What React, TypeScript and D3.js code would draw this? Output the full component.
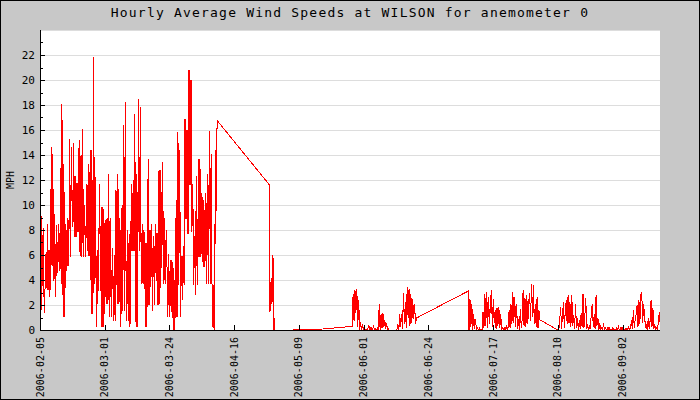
import React from "react";
import * as d3 from "d3";

const TITLE = "Hourly Average Wind Speeds at WILSON for anemometer 0";
const Y_TITLE = "MPH";
const yTickValues = [0, 2, 4, 6, 8, 10, 12, 14, 16, 18, 20, 22];
const yMinorTickValues = [1, 3, 5, 7, 9, 11, 13, 15, 17, 19, 21, 23];
const yMax = 24;
const xTickLabels = [
  "2006-02-05", "2006-03-01", "2006-03-24", "2006-04-16", "2006-05-09",
  "2006-06-01", "2006-06-24", "2006-07-17", "2006-08-10", "2006-09-02",
];
const axisStart = "2006-02-05T21:07";
const tickStepHours = 555.6;
const axisSpanHours = 5321;

// hourly-average readings, sampled segments (start time, step in hours, MPH values)
const segAStart = "2006-02-06T01:00";
const segAStep = 4;
const segAValues = [
  0.2, 9.1, 9.1, 3.6, 3.6, 8.2, 4.3, 1.6, 1.4, 4.1,
  6.1, 3.5, 3.4, 6.2, 8.5, 3.3, 3.3, 6.4, 6.4, 2.7,
  4.0, 6.4, 14.7, 5.3, 5.2, 14.1, 10.9, 6.1, 4.0, 9.3,
  7.7, 2.7, 2.7, 7.7, 8.4, 4.6, 4.8, 8.5, 7.6, 4.8,
  4.8, 8.0, 13.0, 5.0, 3.7, 18.1, 10.9, 3.7, 1.1, 13.3,
  8.5, 1.1, 4.8, 8.5, 7.9, 4.8, 5.2, 7.9, 9.0, 5.2,
  5.9, 15.3, 14.7, 5.9, 8.3, 14.7, 14.1, 8.3, 8.3, 12.0,
  15.0, 8.3, 7.5, 12.3, 12.3, 7.5, 7.5, 11.8, 11.8, 7.9,
  7.9, 13.3, 15.2, 7.9, 6.0, 13.3, 14.0, 6.0, 5.9, 16.1,
  13.0, 5.9, 6.2, 10.0, 10.0, 5.9, 5.9, 9.5, 11.7, 6.4,
  6.4, 11.7, 13.3, 6.0, 6.0, 12.0, 14.4, 6.0, 1.3, 14.4,
  10.0, 1.3, 3.7, 21.9, 12.3, 3.7, 4.2, 12.3, 6.4, 3.2,
  0.3, 6.4, 6.4, 3.2, 3.2, 11.7, 11.7, 6.1, 3.2, 9.0,
  9.9, 0.3, 3.2, 9.9, 8.5, 0.3, 3.5, 8.5, 8.8, 3.5,
  2.1, 8.8, 9.0, 2.1, 2.5, 12.5, 9.0, 2.5, 1.1, 9.0,
  6.6, 1.1, 2.0, 6.6, 5.5, 2.0, 0.8, 5.5, 6.0, 0.8,
  4.0, 11.2, 9.0, 4.0, 2.1, 12.5, 9.0, 2.1, 2.5, 9.0,
  7.5, 0.3, 1.6, 7.5, 10.0, 1.6, 4.0, 13.6, 16.4, 4.0,
  1.6, 18.3, 8.0, 1.6, 0.8, 8.0, 7.2, 0.8, 2.0, 7.2,
  7.7, 0.3, 3.0, 7.7, 11.7, 6.4, 6.4, 9.8, 12.0, 6.4,
  6.4, 17.3, 12.5, 6.4, 0.3, 12.5, 12.3, 0.3, 6.4, 12.3,
  18.5, 6.4, 6.4, 17.9, 8.5, 6.4, 3.7, 8.5, 8.0, 3.7,
  4.5, 8.0, 7.0, 4.5, 0.3, 7.0, 7.0, 0.3, 3.0, 8.0,
  13.7, 2.1, 2.1, 8.0, 8.0, 3.5, 3.5, 8.5, 8.5, 1.6,
  1.6, 7.5, 7.5, 2.1, 2.1, 8.5, 8.5, 4.0, 4.0, 7.8,
  7.8, 2.1, 2.1, 12.7, 12.8, 2.1, 5.0, 12.8, 10.0, 5.0,
  7.5, 13.5, 9.0, 7.5, 3.7, 9.0, 8.0, 3.7, 4.0, 8.0,
  6.1, 4.0, 1.1, 6.1, 5.0, 1.1, 2.0, 5.0, 5.6, 2.0,
  1.5, 5.6, 5.0, 1.5, 0.0, 5.0, 3.0, 0.0, 1.5, 3.5,
  10.4, 1.1, 1.1, 8.0, 15.9, 3.7, 3.7, 14.4, 14.4, 1.1,
  1.1, 5.9, 5.9, 2.5, 2.5, 6.7, 6.7, 3.7, 3.7, 16.9,
  16.9, 9.0, 9.0, 16.0, 16.0, 7.8, 7.8, 20.8, 20.8, 11.7,
  11.7, 20.0, 20.0, 7.9, 7.9, 11.7, 11.7, 3.7, 3.7, 7.5,
  7.5, 2.9, 2.9, 12.3, 12.3, 3.7, 3.7, 9.0, 13.7, 5.9,
  5.9, 13.7, 11.0, 5.9, 6.5, 11.0, 10.4, 6.5, 5.1, 10.4,
  9.5, 5.1, 5.5, 9.5, 11.0, 5.5, 3.7, 11.0, 12.5, 3.7,
  5.1, 15.9, 15.9, 5.1, 3.7, 14.1, 14.1, 3.7, 0.3, 3.7,
  3.2, 0.3, 0.0, 3.2, 14.4, 6.9, 11.2, 14.4, 16.8,
];

const segBStart = "2006-04-28T18:00";
const segBStep = 4;
const segBValues = [11.65, 1.5, 3.9, 1.6, 3.8, 2.1, 6.0, 2.3, 5.8, 0.0, 0.0, 1.0, 0.0];

const segCStart = "2006-05-13T18:00";
const segCStep = 96;
const segCValues = [0.08, 0.12, 0.2, 0.28];

const segDStart = "2006-05-28T08:00";
const segDStep = 8;
const segDValues = [
  0.3, 2.9, 0.8, 3.2, 1.4, 3.3, 0.3, 2.4, 0.0, 0.7,
  0.0, 0.5, 0.0, 0.4, 0.0, 0.1, 0.0, 0.2, 0.4, 0.0,
  0.3, 0.0, 0.1, 0.4, 0.0, 0.1, 0.0, 0.2, 0.0, 2.1,
  0.0, 1.3, 0.2, 1.4, 0.3, 0.8, 0.1, 0.6, 0.0, 0.1,
  0.0, 0.0, 0.0, 0.0, 0.0, 0.0, 0.0, 0.0, 0.1, 0.5,
  0.0, 1.3, 0.3, 1.3, 0.1, 3.0, 0.5, 2.3, 0.2, 3.5,
  1.0, 3.3, 0.4, 2.9, 0.6, 2.5, 0.9, 2.1, 0.5, 1.0,
];

const segEStart = "2006-07-08T19:00";
const segEStep = 8;
const segEValues = [
  3.15, 0.0, 2.5, 0.3, 2.1, 0.0, 1.3, 0.1, 0.9, 0.0,
  0.3, 0.0, 0.2, 0.0, 0.1, 0.0, 1.5, 0.2, 2.9, 0.4,
  3.1, 0.2, 2.7, 0.5, 2.4, 3.2, 0.3, 2.5, 0.6, 1.6,
  0.1, 1.8, 0.4, 1.9, 0.2, 1.3, 0.0, 0.3, 0.0, 0.2,
  0.0, 0.4, 0.0, 0.3, 1.6, 0.2, 2.1, 0.5, 3.1, 0.6,
  2.7, 0.3, 2.1, 0.1, 0.9, 0.0, 1.7, 0.2, 0.9, 3.2,
  0.4, 2.6, 0.3, 2.8, 0.5, 2.3, 3.0, 0.8, 3.7, 1.1,
  3.6, 0.5, 2.1, 0.3, 2.7, 0.2, 1.6, 0.85,
];

const segFStart = "2006-08-10T05:00";
const segFStep = 8;
const segFValues = [
  0.0, 0.8, 1.9, 0.1, 1.2, 2.3, 0.2, 1.6, 2.4, 0.5,
  2.8, 0.6, 2.3, 0.3, 2.8, 0.4, 1.2, 0.1, 2.1, 0.2,
  1.0, 0.0, 0.8, 0.1, 1.4, 0.3, 2.9, 0.2, 1.2, 2.6,
  0.1, 0.5, 0.0, 0.3, 0.1, 1.6, 2.1, 0.3, 1.3, 0.1,
  2.8, 0.4, 1.0, 0.0, 0.6, 0.0, 0.3, 0.0, 0.6, 0.0,
  0.3, 0.0, 0.2, 0.0, 0.3, 0.0, 0.1, 0.0, 0.2, 0.0,
  0.1, 0.0, 0.2, 0.0, 0.4, 0.0, 0.2, 0.0, 0.3, 0.0,
  0.1, 0.0, 0.2, 0.0, 0.1, 0.3, 0.0, 0.2, 0.8, 0.1,
  1.6, 0.2, 0.9, 1.3, 2.0, 0.3, 2.4, 0.5, 2.9, 3.1,
  0.6, 2.1, 1.3, 0.2, 0.5, 0.0, 1.0, 0.1, 0.8, 2.4,
  0.3, 1.8, 0.1, 0.5, 0.0, 0.3, 0.0, 0.9, 1.5, 0.2,
];

const parseTime = d3.timeParse("%Y-%m-%dT%H:%M");
const HOUR = 3600 * 1000;

type Pt = { t: Date; v: number };

function expand(start: string, stepH: number, values: number[]): Pt[] {
  const t0 = (parseTime(start) as Date).getTime();
  return values.map((v, i) => ({ t: new Date(t0 + i * stepH * HOUR), v }));
}

const series: Pt[] = [
  ...expand(segAStart, segAStep, segAValues),
  ...expand(segBStart, segBStep, segBValues),
  ...expand(segCStart, segCStep, segCValues),
  ...expand(segDStart, segDStep, segDValues),
  ...expand(segEStart, segEStep, segEValues),
  ...expand(segFStart, segFStep, segFValues),
];

const W = 700;
const H = 400;
const M = { left: 40, right: 40, top: 30, bottom: 70 };
const MONO = "'DejaVu Sans Mono', 'Liberation Mono', monospace";

export default function App() {
  const t0 = (parseTime(axisStart) as Date).getTime();
  const x = d3
    .scaleTime()
    .domain([new Date(t0), new Date(t0 + axisSpanHours * HOUR)])
    .range([M.left, W - M.right]);
  const y = d3.scaleLinear().domain([0, yMax]).range([H - M.bottom, M.top]);
  const line = d3
    .line<Pt>()
    .x((d) => x(d.t))
    .y((d) => y(d.v));
  const xTicks = xTickLabels.map((label, k) => ({
    label,
    t: new Date(t0 + k * tickStepHours * HOUR),
  }));
  const x0 = M.left;
  const x1 = W - M.right;
  const yb = H - M.bottom;

  return (
    <svg
      width={W}
      height={H}
      style={{ position: "absolute", left: 0, top: 0 }}
      fontFamily={MONO}
    >
      <defs>
        <clipPath id="plot">
          <rect x={x0} y={M.top} width={x1 - x0} height={yb - M.top + 1} />
        </clipPath>
      </defs>
      <rect x={0.5} y={0.5} width={W - 1} height={H - 1} fill="#c8c8c8" stroke="#000" />
      <rect x={x0} y={M.top} width={x1 - x0} height={yb - M.top} fill="#fff" />
      {yTickValues.concat([yMax]).filter((v) => v > 0).map((v) => (
        <line
          key={"g" + v}
          x1={x0}
          x2={x1}
          y1={Math.round(y(v)) + 0.5}
          y2={Math.round(y(v)) + 0.5}
          stroke="#dddddd"
          shapeRendering="crispEdges"
        />
      ))}
      <g clipPath="url(#plot)">
        <path
          d={line(series) || ""}
          transform="translate(0.5,0.5)"
          fill="none"
          stroke="#ff0000"
          strokeWidth={1}
          shapeRendering="crispEdges"
        />
      </g>
      {/* axes */}
      <line x1={x0 + 0.5} x2={x0 + 0.5} y1={M.top} y2={yb + 1} stroke="#000" shapeRendering="crispEdges" />
      <line x1={x0} x2={x1} y1={yb + 0.5} y2={yb + 0.5} stroke="#000" shapeRendering="crispEdges" />
      {yTickValues.map((v) => (
        <line
          key={"t" + v}
          x1={x0}
          x2={x0 + 5}
          y1={Math.round(y(v)) + 0.5}
          y2={Math.round(y(v)) + 0.5}
          stroke="#000"
          shapeRendering="crispEdges"
        />
      ))}
      {yMinorTickValues.map((v) => (
        <line
          key={"m" + v}
          x1={x0}
          x2={x0 + 3}
          y1={Math.round(y(v)) + 0.5}
          y2={Math.round(y(v)) + 0.5}
          stroke="#000"
          shapeRendering="crispEdges"
        />
      ))}
      {yTickValues.map((v) => (
        <text
          key={"l" + v}
          x={35}
          y={y(v)}
          dy="0.35em"
          textAnchor="end"
          fontSize={11}
          fill="#000"
        >
          {v}
        </text>
      ))}
      {xTicks.map((tk) => (
        <g key={tk.label}>
          <line
            x1={Math.round(x(tk.t)) + 0.5}
            x2={Math.round(x(tk.t)) + 0.5}
            y1={yb - 5}
            y2={yb}
            stroke="#000"
            shapeRendering="crispEdges"
          />
          <text
            transform={`translate(${x(tk.t)},${yb + 7}) rotate(-90)`}
            dy="0.35em"
            textAnchor="end"
            fontSize={10}
            fill="#000"
          >
            {tk.label}
          </text>
        </g>
      ))}
      <text
        transform={`translate(10,${(M.top + yb) / 2}) rotate(-90)`}
        dy="0.35em"
        textAnchor="middle"
        fontSize={10}
        fill="#000"
      >
        {Y_TITLE}
      </text>
      <text
        x={W / 2}
        y={17}
        textAnchor="middle"
        fontSize={13}
        letterSpacing={1.2}
        fill="#000"
      >
        {TITLE}
      </text>
    </svg>
  );
}
